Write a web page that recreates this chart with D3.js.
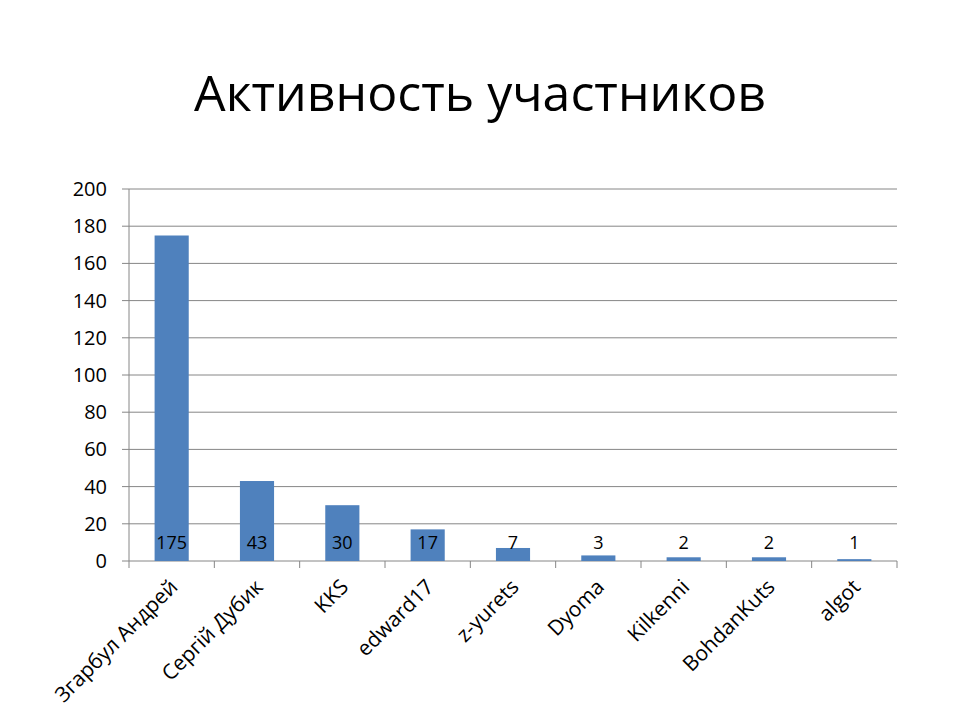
<!DOCTYPE html>
<html>
<head>
<meta charset="utf-8">
<script src="https://cdn.jsdelivr.net/npm/d3@7"></script>
<style>
  body { margin: 0; background: #fff; }
  text { font-family: "Open Sans", "DejaVu Sans", sans-serif; }
</style>
</head>
<body>
<svg id="chart" width="960" height="720"></svg>
<script>
// данные
const participants = ["Згарбул Андрей", "Сергій Дубик", "KKS", "edward17", "z-yurets", "Dyoma", "Kilkenni", "BohdanKuts", "algot"];
const posts = [175, 43, 30, 17, 7, 3, 2, 2, 1];
const yTicks = [0, 20, 40, 60, 80, 100, 120, 140, 160, 180, 200];

const svg = d3.select("#chart");
const plotLeft = 129, plotRight = 897, plotTop = 189, plotBottom = 561;

const x = d3.scaleBand()
  .domain(participants)
  .range([plotLeft, plotRight])
  .paddingInner(0.6)
  .paddingOuter(0.3);

const xBand = d3.scaleBand().domain(participants).range([plotLeft, plotRight]);

const y = d3.scaleLinear().domain([0, 200]).range([plotBottom, plotTop]);

// заголовок
svg.append("text")
  .attr("x", 480)
  .attr("y", 111)
  .attr("text-anchor", "middle")
  .style("font-size", "50px")
  .text("Активность участников");

// сетка
svg.append("g")
  .selectAll("line")
  .data(yTicks)
  .enter().append("line")
  .attr("x1", plotLeft - 7)
  .attr("x2", plotRight)
  .attr("y1", d => y(d))
  .attr("y2", d => y(d))
  .attr("stroke", "#868686")
  .attr("stroke-width", 1);

// ось Y
svg.append("line")
  .attr("x1", plotLeft).attr("x2", plotLeft)
  .attr("y1", plotTop).attr("y2", plotBottom)
  .attr("stroke", "#868686");

svg.append("g")
  .selectAll("text")
  .data(yTicks)
  .enter().append("text")
  .attr("x", plotLeft - 22)
  .attr("y", d => y(d))
  .attr("dy", "0.35em")
  .attr("text-anchor", "end")
  .style("font-size", "20px")
  .text(d => d);

// засечки оси X
const xTickPos = participants.map(p => xBand(p)).concat([plotRight]);
svg.append("g")
  .selectAll("line")
  .data(xTickPos)
  .enter().append("line")
  .attr("x1", d => d).attr("x2", d => d)
  .attr("y1", plotBottom).attr("y2", plotBottom + 7)
  .attr("stroke", "#868686");

// столбцы
svg.append("g")
  .selectAll("rect")
  .data(posts)
  .enter().append("rect")
  .attr("x", (d, i) => x(participants[i]))
  .attr("y", d => y(d))
  .attr("width", x.bandwidth())
  .attr("height", d => plotBottom - y(d))
  .attr("fill", "#4F81BD");

// подписи значений
svg.append("g")
  .selectAll("text")
  .data(posts)
  .enter().append("text")
  .attr("x", (d, i) => x(participants[i]) + x.bandwidth() / 2)
  .attr("y", plotBottom - 12)
  .attr("text-anchor", "middle")
  .style("font-size", "18px")
  .text(d => d);

// подписи категорий
svg.append("g")
  .selectAll("text")
  .data(participants)
  .enter().append("text")
  .attr("transform", d => {
    const cx = xBand(d) + xBand.bandwidth() / 2 + 2;
    return `translate(${cx},${plotBottom + 22}) rotate(-45)`;
  })
  .attr("text-anchor", "end")
  .attr("dy", "0.35em")
  .style("font-size", "21px")
  .text(d => d);
</script>
</body>
</html>
